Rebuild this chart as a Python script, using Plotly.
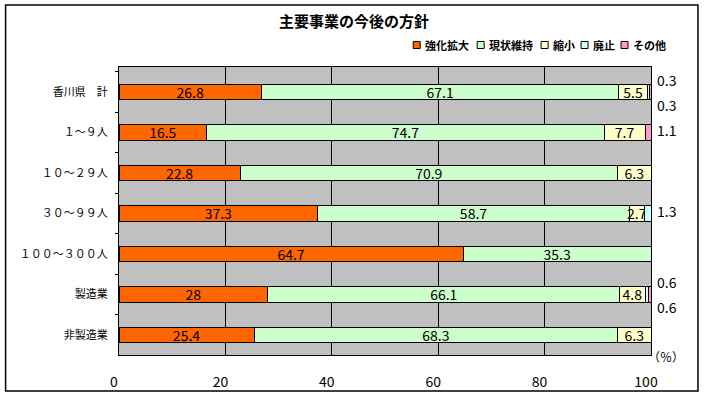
import plotly.graph_objects as go

categories = ["香川県　計", "１～９人", "１０～２９人", "３０～９９人", "１００～３００人", "製造業", "非製造業"]
series_names = ["強化拡大", "現状維持", "縮小", "廃止", "その他"]
kyouka = [26.8, 16.5, 22.8, 37.3, 64.7, 28, 25.4]
genjou = [67.1, 74.7, 70.9, 58.7, 35.3, 66.1, 68.3]
shukushou = [5.5, 7.7, 6.3, 2.7, None, 4.8, 6.3]
haishi = [0.3, None, None, 1.3, None, 0.6, None]
sonota = [0.3, 1.1, None, None, None, 0.6, None]
x_ticks = [0, 20, 40, 60, 80, 100]

series_values = [kyouka, genjou, shukushou, haishi, sonota]
colors = ["#FF6600", "#CCFFCC", "#FFFFCC", "#CCFFFF", "#FF99CC"]
inside_text = [True, True, True, False, False]

NUMFONT = "Liberation Sans Narrow, Noto Sans CJK JP, sans-serif"
CJK = "Noto Sans CJK JP, sans-serif"

# plot-area geometry in pixels (for converting decoration positions)
L, R, T, B = 118.5, 651, 67, 355
def px(x):
    return (x - L) / (R - L)
def py(y):
    return (B - y) / (B - T)

fig = go.Figure()
for name, vals, col, show in zip(series_names, series_values, colors, inside_text):
    fig.add_trace(go.Bar(
        name=name, y=categories, x=vals, orientation="h",
        marker=dict(color=col, line=dict(color="black", width=1)),
        text=[("" if v is None else f"{v:g}") for v in vals] if show else None,
        textposition="inside", insidetextanchor="middle", constraintext="none",
        textangle=0,
        textfont=dict(family=NUMFONT, size=14, color="black"),
        cliponaxis=False, showlegend=False,
    ))

annotations = []
# outside labels for small segments
for i, cat in enumerate(categories):
    h, s = haishi[i], sonota[i]
    if h is not None and s is not None:
        items = [(h, 12), (s, -13)]
    else:
        items = [(v, 2) for v in (h, s) if v is not None]
    for v, ys in items:
        annotations.append(dict(x=100, y=cat, xref="x", yref="y", text=f"{v:g}",
                                showarrow=False, xanchor="left", yanchor="middle", xshift=4, yshift=ys,
                                font=dict(family=NUMFONT, size=14, color="black")))

annotations.append(dict(x=px(666), y=py(356), xref="paper", yref="paper", text="（％）",
                        showarrow=False, xanchor="center", yanchor="middle",
                        font=dict(family=CJK, size=12, color="black")))
annotations.append(dict(x=px(354), y=py(20), xref="paper", yref="paper", text="<b>主要事業の今後の方針</b>",
                        showarrow=False, xanchor="center", yanchor="middle",
                        font=dict(family=CJK, size=15, color="black")))

shapes = [dict(type="rect", xref="paper", yref="paper", x0=px(5), x1=px(698), y0=py(391), y1=py(5),
               line=dict(color="black", width=1.5), fillcolor="rgba(0,0,0,0)", layer="below")]

# manual legend
pos = 413
ly = 45
for name, col in zip(series_names, colors):
    shapes.append(dict(type="rect", xref="paper", yref="paper", x0=px(pos), x1=px(pos + 7),
                       y0=py(ly + 3.5), y1=py(ly - 3.5), fillcolor=col, line=dict(color="black", width=1)))
    annotations.append(dict(x=px(pos + 10), y=py(ly), xref="paper", yref="paper", text=f"<b>{name}</b>",
                            showarrow=False, xanchor="left", yanchor="middle",
                            font=dict(family=CJK, size=11, color="black")))
    pos += 10 + 12 * len(name) + 6

fig.update_layout(
    barmode="stack", bargap=0.62,
    width=704, height=396,
    margin=dict(l=L, r=704 - R, t=T, b=396 - B, pad=0, autoexpand=False),
    paper_bgcolor="white", plot_bgcolor="#C0C0C0",
    annotations=annotations, shapes=shapes,
    xaxis=dict(range=[0, 100], tickvals=x_ticks, ticktext=[str(t) for t in x_ticks],
               showgrid=True, gridcolor="black", gridwidth=1,
               showline=True, linecolor="black", linewidth=1, mirror=True,
               ticks="", zeroline=False, fixedrange=True,
               ticklabelstandoff=14, ticklabelshift=-5,
               tickfont=dict(family=NUMFONT, size=14, color="black")),
    yaxis=dict(categoryorder="array", categoryarray=categories, autorange="reversed",
               showgrid=False, showline=True, linecolor="black", linewidth=1, mirror=True,
               ticks="outside", ticklen=3, tickcolor="black", tickson="boundaries",
               ticklabelstandoff=8,
               tickfont=dict(family=CJK, size=11, color="black")),
    font=dict(family=CJK),
)

fig.write_html("out.html", config={"displayModeBar": False},
               post_script="document.body.style.margin='0';")
